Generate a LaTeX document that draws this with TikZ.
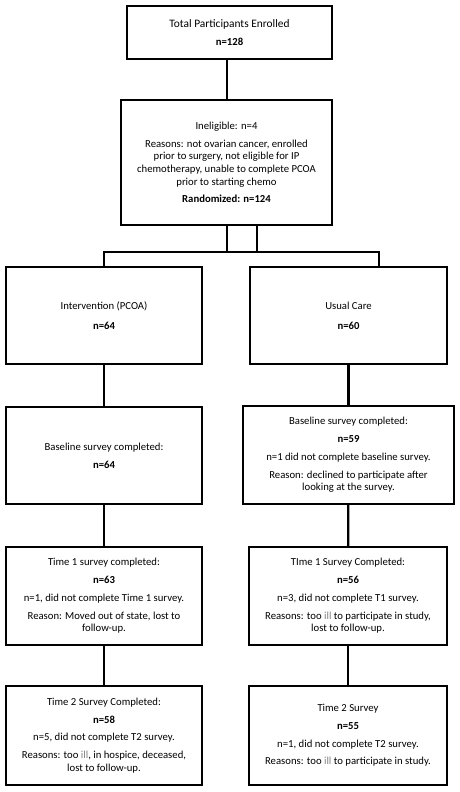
\documentclass[tikz,border=0pt]{standalone}
\usepackage{fontspec}
\setmainfont{Carlito}
\tikzset{
  flowbox/.style={draw, line width=2.2pt, align=center, inner sep=0pt, font=\fontsize{10.7}{12.7}\selectfont},
  link/.style={line width=2.2pt}
}
\newcommand{\gapline}{\\[5pt]}
\begin{document}
\begin{tikzpicture}[x=1pt,y=-1pt]
\useasboundingbox (0,0) rectangle (460,792);

\node[flowbox, minimum width=205pt, minimum height=53pt] (total) at (229.5,32.5)
  {\fontsize{11.4}{13}\selectfont Total Participants Enrolled\\[6pt]\textbf{n=128}};
\node[flowbox, minimum width=211pt, minimum height=125pt] (inelig) at (226.5,162.5)
  {Ineligible: n=4\gapline
   Reasons: not ovarian cancer, enrolled\\
   prior to surgery, not eligible for IP\\
   chemotherapy, unable to complete PCOA\\
   prior to starting chemo\gapline
   \textbf{Randomized: n=124}};

\node[flowbox, minimum width=196pt, minimum height=97pt] (interv) at (104,315.5)
  {Intervention (PCOA)\\[7pt]\textbf{n=64}};
\node[flowbox, minimum width=197pt, minimum height=97pt] (usual) at (348.5,315.5)
  {Usual Care\\[7pt]\textbf{n=60}};

\node[flowbox, minimum width=196pt, minimum height=97pt] (baseL) at (104,455.5)
  {Baseline survey completed:\\[5pt]\textbf{n=64}};
\node[flowbox, minimum width=211pt, minimum height=98pt] (baseR) at (348.5,455)
  {Baseline survey completed:\gapline
   \textbf{n=59}\gapline
   n=1 did not complete baseline survey.\gapline
   Reason: declined to participate after\\
   looking at the survey.};

\node[flowbox, minimum width=196pt, minimum height=98pt] (t1L) at (104,596)
  {Time 1 survey completed:\gapline
   \textbf{n=63}\gapline
   n=1, did not complete Time 1 survey.\gapline
   Reason: Moved out of state, lost to\\
   follow-up.};
\node[flowbox, minimum width=198pt, minimum height=98pt] (t1R) at (348,596)
  {TIme 1 Survey Completed:\gapline
   \textbf{n=56}\gapline
   n=3, did not complete T1 survey.\gapline
   Reasons: too {\color{gray}ill} to participate in study,\\
   lost to follow-up.};

\node[flowbox, minimum width=196pt, minimum height=99pt] (t2L) at (104,735.5)
  {Time 2 Survey Completed:\gapline
   \textbf{n=58}\gapline
   n=5, did not complete T2 survey.\gapline
   Reasons: too {\color{gray}ill}, in hospice, deceased,\\
   lost to follow-up.};
\node[flowbox, minimum width=198pt, minimum height=99pt] (t2R) at (348,735.5)
  {Time 2 Survey\gapline
   \textbf{n=55}\gapline
   n=1, did not complete T2 survey.\gapline
   Reasons: too {\color{gray}ill} to participate in study.};

\draw[link] (inelig.north) ++(0.5,0) coordinate (topin) (total.south -| topin) -- (topin);
\draw[link] ([xshift=0.5pt]inelig.south) -- ++(0,26) coordinate (jl);
\draw[link] ([xshift=30.5pt]inelig.south) -- ++(0,26) coordinate (jr);
\draw[link] (interv.north) |- (jl) -- (jr) -| ([xshift=30.5pt]usual.north);

\draw[link] (interv) -- (baseL);
\draw[link] (usual) -- (baseR);
\draw[link] (baseL) -- (t1L);
\draw[link] (baseR) -- (t1R);
\draw[link] (t1L) -- (t2L);
\draw[link] (t1R) -- (t2R);
\end{tikzpicture}
\end{document}
